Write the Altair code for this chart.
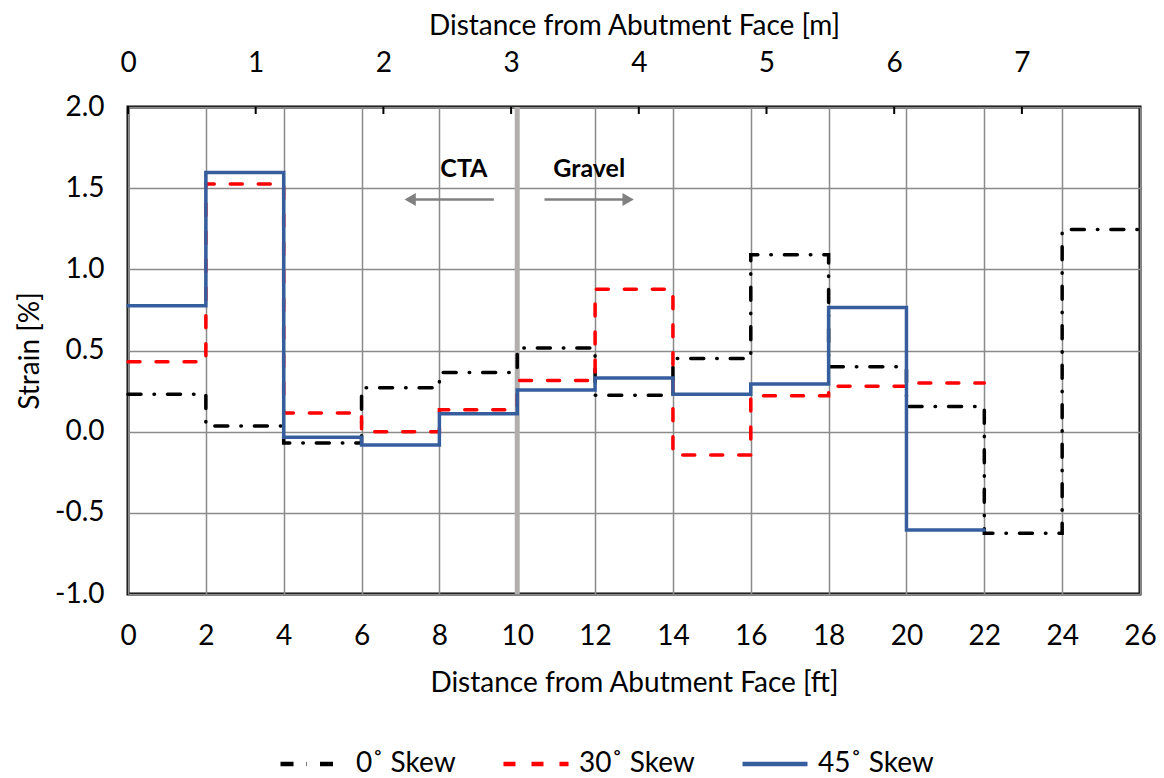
import altair as alt
import pandas as pd

# ---- data ----
edges_ft = [0, 2, 4, 6, 8, 10, 12, 14, 16, 18, 20, 22, 24, 26]
skew0 = [0.23, 0.035, -0.07, 0.27, 0.365, 0.515, 0.225, 0.45, 1.09, 0.40, 0.155, -0.625, 1.245]
skew30 = [0.43, 1.525, 0.115, 0.0, 0.135, 0.315, 0.877, -0.143, 0.222, 0.28, 0.30]
skew45 = [0.776, 1.597, -0.035, -0.082, 0.11, 0.257, 0.33, 0.23, 0.293, 0.765, -0.606]
series_names = ["0˚ Skew", "30˚ Skew", "45˚ Skew"]
series_colors = ["#000000", "#ff0000", "#365e9e"]
series_dash = [[13, 13, 0.5, 13], [12, 16], [1, 0]]

m_ticks = [0, 1, 2, 3, 4, 5, 6, 7]
ft_per_m = 3.2808
x_max_ft = 26

divider_ft = [10]
labels_text = ["CTA", "Gravel"]
labels_x = [8.63, 11.85]
labels_y = [1.62, 1.62]
arrow_tail = [9.4, 10.7]
arrow_tip = [7.35, 12.75]
arrow_head = [7.25, 12.85]
arrow_shape = ["triangle-left", "triangle-right"]
arrow_y = [1.43, 1.43]

# ---- build step-line table ----
rows = []
for name, vals in zip(series_names, [skew0, skew30, skew45]):
    k = 0
    for i, v in enumerate(vals):
        rows.append({"series": name, "ft": edges_ft[i], "strain": v, "o": k}); k += 1
        rows.append({"series": name, "ft": edges_ft[i + 1], "strain": v, "o": k}); k += 1
steps = pd.DataFrame(rows)

FONT = "Lato"
FS = 28

xft = alt.Scale(domain=[0, x_max_ft], nice=False, zero=False)
ysc = alt.Scale(domain=[-1.0, 2.0], nice=False)

x_axis = alt.Axis(
    values=edges_ft, title="Distance from Abutment Face [ft]", grid=True,
    gridColor="#8a8a8a", gridWidth=1.5, ticks=False, domain=False,
    labelPadding=28, titlePadding=19, format="d", labelFlush=False,
)
y_axis = alt.Axis(
    values=[-1.0, -0.5, 0.0, 0.5, 1.0, 1.5, 2.0], format=".1f", title="Strain [%]",
    labelExpr="replace(datum.label, '\u2212', '-')",
    grid=True, gridColor="#8a8a8a", gridWidth=1.5, ticks=False, domain=False,
    labelPadding=24, titlePadding=10,
)

leg = alt.Legend(title=None, orient="none", direction="horizontal",
                 legendX=150, legendY=622, symbolType="stroke",
                 symbolSize=4225, symbolStrokeWidth=4.5,
                 labelFontSize=FS, labelFont=FONT, labelColor="#000",
                 columnPadding=38, labelOffset=8)

lines = alt.Chart(steps).mark_line(strokeWidth=3.5, strokeCap="round", strokeJoin="miter").encode(
    x=alt.X("ft:Q", scale=xft, axis=x_axis),
    y=alt.Y("strain:Q", scale=ysc, axis=y_axis),
    color=alt.Color("series:N", scale=alt.Scale(domain=series_names, range=series_colors), legend=leg),
    strokeDash=alt.StrokeDash("series:N", scale=alt.Scale(domain=series_names, range=series_dash), legend=leg),
    detail="series:N",
    order="o:Q",
)

divider = alt.Chart(pd.DataFrame({"ft": divider_ft})).mark_rule(color="#b3aeae", strokeWidth=5).encode(
    x=alt.X("ft:Q", scale=xft)
)

ann = pd.DataFrame({"label": labels_text, "lx": labels_x, "ly": labels_y,
                    "tail": arrow_tail, "tip": arrow_tip, "head": arrow_head,
                    "shape": arrow_shape, "ay": arrow_y})

texts = alt.Chart(ann).mark_text(font=FONT, fontSize=25, fontWeight="bold", color="#000",
                                 baseline="middle", align="center").encode(
    x=alt.X("lx:Q", scale=xft), y=alt.Y("ly:Q", scale=ysc), text="label:N")

arrow_lines = alt.Chart(ann).mark_rule(color="#808080", strokeWidth=2.5).encode(
    x=alt.X("tail:Q", scale=xft), x2="tip:Q", y=alt.Y("ay:Q", scale=ysc))

arrow_heads = alt.Chart(ann).mark_point(filled=True, color="#808080", size=170, opacity=1).encode(
    x=alt.X("head:Q", scale=xft), y=alt.Y("ay:Q", scale=ysc),
    shape=alt.Shape("shape:N", scale=alt.Scale(domain=arrow_shape, range=arrow_shape), legend=None))

ft_layer = alt.layer(divider, lines, arrow_lines, arrow_heads, texts)

m_layer = alt.Chart(pd.DataFrame({"m": m_ticks})).mark_rule(color="#000", strokeWidth=2).encode(
    x=alt.X("m:Q", scale=alt.Scale(domain=[0, x_max_ft / ft_per_m], nice=False, zero=False),
            axis=alt.Axis(orient="top", values=m_ticks, title="Distance from Abutment Face [m]",
                          grid=False, ticks=False, domain=False, labelPadding=30,
                          titlePadding=9, format="d", labelFlush=False)),
    y=alt.value(0), y2=alt.value(7),
)

chart = alt.layer(ft_layer, m_layer).resolve_scale(x="independent").properties(
    width=1012, height=487,
    autosize=alt.AutoSizeParams(type="none"),
    padding={"left": 120, "top": 99, "right": 16, "bottom": 184},
    background="white",
).configure_view(stroke="#000", strokeWidth=3).configure_axis(
    labelFont=FONT, labelFontSize=FS, labelColor="#000",
    titleFont=FONT, titleFontSize=FS, titleColor="#000", titleFontWeight="normal",
)

chart.save("out.html", embed_options={"renderer": "svg", "actions": False})
